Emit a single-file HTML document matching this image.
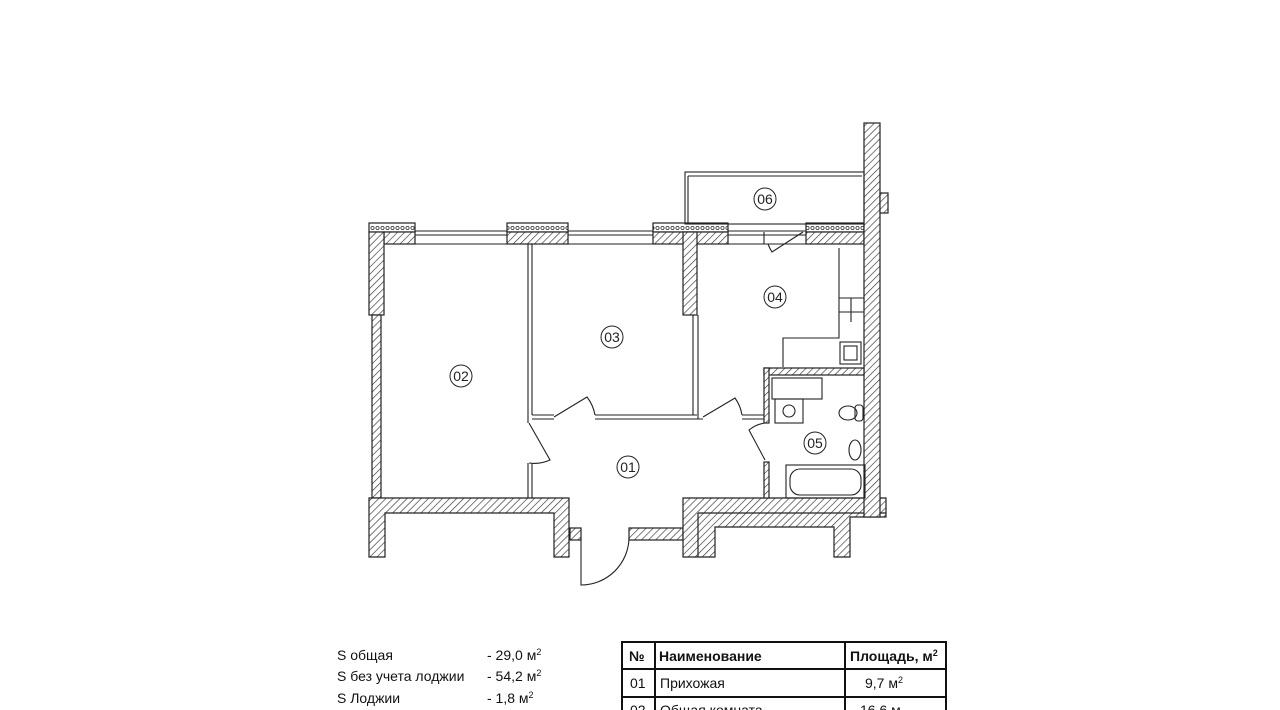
<!DOCTYPE html>
<html><head><meta charset="utf-8"><style>
html,body{margin:0;padding:0;background:#fff;}
svg{display:block}
text{font-family:"Liberation Sans",sans-serif;}
</style></head><body>
<svg width="1280" height="710" viewBox="0 0 1280 710" xmlns="http://www.w3.org/2000/svg">
<defs>
<pattern id="h" width="5" height="5" patternUnits="userSpaceOnUse" patternTransform="rotate(45)">
<rect width="5" height="5" fill="#fff"/><line x1="0" y1="0" x2="0" y2="5" stroke="#333" stroke-width="1.3"/></pattern>
<pattern id="d" width="5" height="8" patternUnits="userSpaceOnUse">
<rect width="5" height="8" fill="#fff"/><circle cx="2.5" cy="4" r="1.6" fill="none" stroke="#333" stroke-width="0.8"/></pattern>
</defs>
<g stroke="#222" stroke-width="1.2" fill="url(#h)">
<!-- top wall blocks -->
<rect x="369" y="223" width="46" height="9" fill="url(#d)"/>
<rect x="384" y="232" width="31" height="12"/>
<rect x="507" y="223" width="61" height="9" fill="url(#d)"/>
<rect x="507" y="232" width="61" height="12"/>
<rect x="653" y="223" width="75" height="9" fill="url(#d)"/>
<rect x="653" y="232" width="75" height="12"/>
<rect x="806" y="223" width="58" height="9" fill="url(#d)"/>
<rect x="806" y="232" width="58" height="12"/>
<!-- left wall -->
<rect x="369" y="232" width="15" height="83"/>
<rect x="372" y="315" width="9" height="183"/>
<!-- bottom left block -->
<path d="M369 498 H569 V557 H554 V513 H385 V557 H369 Z"/>
<!-- entrance stubs -->
<rect x="570" y="528" width="11" height="12"/>
<rect x="629" y="528" width="54" height="12"/>
<!-- right bottom block -->
<path d="M683 498 H886 V517 H850 V557 H834 V527 H715 V557 H683 Z"/>
<line x1="698" y1="513" x2="886" y2="513"/>
<line x1="698" y1="513" x2="698" y2="557"/>
<!-- right outer wall -->
<rect x="864" y="123" width="16" height="394"/>
<rect x="880" y="193" width="8" height="20"/>
<!-- 03/04 hatched -->
<rect x="683" y="232" width="14" height="83"/>
<!-- bathroom top wall -->
<rect x="764" y="368" width="100" height="7"/>
<rect x="764" y="368" width="5" height="55"/>
<rect x="764" y="462" width="5" height="36"/>
</g>
<g stroke="#222" stroke-width="1.1" fill="none">
<!-- windows -->
<path d="M415 231 H507 M415 235 H507 M415 244 H507"/>
<path d="M568 231 H653 M568 235 H653 M568 244 H653"/>
<path d="M728 231 H806 M728 235 H806 M728 244 H806"/>
<!-- loggia -->
<rect x="685" y="172" width="179" height="52"/>
<path d="M688 176 H862 M688 176 V224" />
<!-- partition 02/03 -->
<path d="M528 244 V423 M532 244 V415 M528 463 V498 M532 463 V498"/>
<path d="M532 415 H554 M532 419 H554 M595 415 H697 M595 419 H703"/>
<path d="M693 315 V415 M698 315 V419"/>
<path d="M742 415 H764 M742 419 H764"/>
<!-- doors -->
<path d="M529 423 L550 460 A38 38 0 0 1 529 463"/>
<path d="M554 417 L587 397 A42 42 0 0 1 595 415"/>
<path d="M703 417 L735 398 A40 40 0 0 1 742 415"/>
<path d="M765 460 L749 430 A34 34 0 0 1 765 423"/>
<path d="M581 538 V585 A48 48 0 0 0 629 538"/>
<path d="M764 232 V244 M803 232 L772 252 A40 40 0 0 1 768 244"/>
<!-- kitchen -->
<path d="M839 248 V338 H783 V367 M839 298 H864 M851 298 V322 M839 312 H864"/>
<rect x="840" y="342" width="21" height="22"/><rect x="844" y="346" width="13" height="14"/>
<!-- bath fixtures -->
<rect x="772" y="378" width="50" height="21"/>
<rect x="775" y="399" width="28" height="24"/><circle cx="789" cy="411" r="6"/>
<rect x="786" y="465" width="79" height="33"/><rect x="790" y="469" width="71" height="26" rx="10"/>
<ellipse cx="848" cy="413" rx="9" ry="7"/><rect x="855" y="405" width="8" height="16" rx="3"/>
<ellipse cx="855" cy="450" rx="6" ry="10"/>
</g>
<g font-size="14" text-anchor="middle" fill="#222">
<g fill="none" stroke="#222" stroke-width="1">
<circle cx="765" cy="199" r="11"/><circle cx="775" cy="297" r="11"/><circle cx="612" cy="337" r="11"/>
<circle cx="461" cy="376" r="11"/><circle cx="815" cy="443" r="11"/><circle cx="628" cy="467" r="11"/></g>
<text x="765" y="204">06</text><text x="775" y="302">04</text><text x="612" y="342">03</text>
<text x="461" y="381">02</text><text x="815" y="448">05</text><text x="628" y="472">01</text>
</g>
<g font-size="14" fill="#111">
<text x="337" y="660">S общая</text><text x="487" y="660">- 29,0 м<tspan font-size="9" dy="-5">2</tspan></text>
<text x="337" y="681">S без учета лоджии</text><text x="487" y="681">- 54,2 м<tspan font-size="9" dy="-5">2</tspan></text>
<text x="337" y="703">S Лоджии</text><text x="487" y="703">- 1,8 м<tspan font-size="9" dy="-5">2</tspan></text>
</g>
<g stroke="#111" stroke-width="2" fill="none">
<path d="M622 712 V642 H946 V712 M655 642 V712 M845 642 V712 M622 669 H946 M622 697 H946"/>
</g>
<g font-size="14" fill="#111">
<text x="629" y="661" font-weight="bold">№</text>
<text x="659" y="661" font-weight="bold">Наименование</text>
<text x="850" y="661" font-weight="bold">Площадь, м<tspan font-size="9" dy="-5">2</tspan></text>
<text x="630" y="688">01</text><text x="660" y="688">Прихожая</text>
<text x="865" y="688">9,7 м<tspan font-size="9" dy="-5">2</tspan></text>
<text x="630" y="715">02</text><text x="660" y="715">Общая комната</text>
<text x="860" y="715">16,6 м</text>
</g>
</svg>
</body></html>
